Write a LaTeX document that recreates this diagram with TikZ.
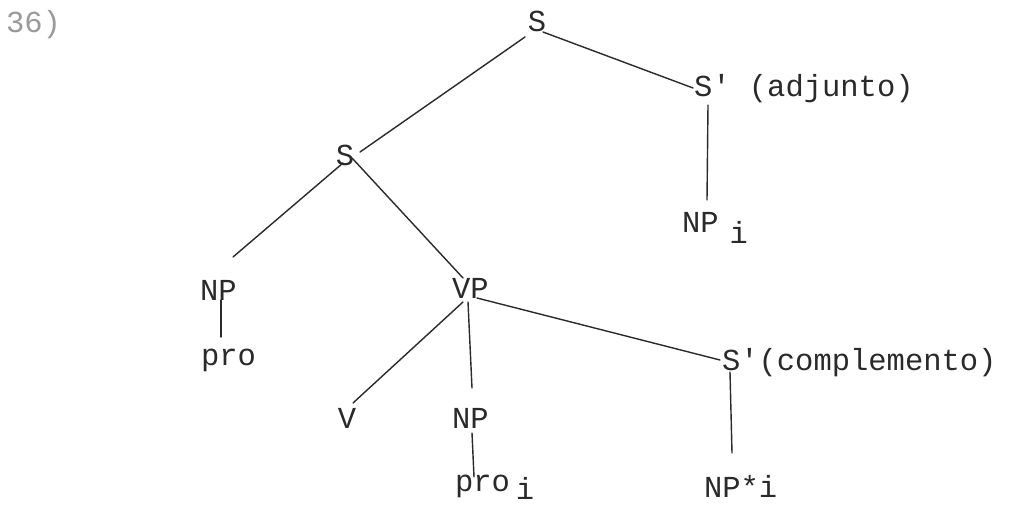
\documentclass[tikz,border=0pt]{standalone}
\usepackage{fontspec}
\setmonofont{Liberation Mono}
\definecolor{ink}{HTML}{2A2A2A}
\definecolor{faint}{HTML}{9A9A9A}
\tikzset{
  lbl/.style={inner sep=0pt, outer sep=0pt, text=ink, font=\fontsize{30.5}{36}\selectfont\ttfamily},
  edge/.style={draw=ink, line width=1.4pt, line cap=round}
}
\begin{document}
\begin{tikzpicture}[x=1pt,y=-1pt]
\useasboundingbox[fill=white] (0,0) rectangle (1009,508);
% labels
\node[lbl, anchor=base west, text=faint] (num) at (6,33) {36)};
\node[lbl, anchor=base] (S) at (537,32) {S};
\node[lbl, anchor=base west] (Sa) at (694,97) {S' (adjunto)};
\node[lbl, anchor=base west] (NPi) at (682,232) {NP\hspace{11pt}\raisebox{-11pt}{i}};
\node[lbl, anchor=base] (Sm) at (345,165) {S};
\node[lbl, anchor=base west] (NPl) at (200,300) {NP};
\node[lbl, anchor=base west] (prol) at (201,365) {pro};
\node[lbl, anchor=base west] (VP) at (452,298) {VP};
\node[lbl, anchor=base] (V) at (347,428) {V};
\node[lbl, anchor=base west] (NPm) at (452,428) {NP};
\node[lbl, anchor=base west] (proi) at (455,491) {pro\hspace{6pt}\raisebox{-8pt}{i}};
\node[lbl, anchor=base west] (Sc) at (722,370) {S'(complemento)};
\node[lbl, anchor=base west] (NPs) at (704,497) {NP*i};
% connectors
\draw[edge] ([shift={(6,0)}]S.base) -- ([shift={(-1,-9)}]Sa.base west);
\draw[edge] ([shift={(-12,5)}]S.base) -- ([shift={(15,-13)}]Sm.base);
\draw[edge] ([shift={(14,8)}]Sa.base west) -- ([shift={(25,-32)}]NPi.base west);
\draw[edge] ([shift={(-2,-2)}]Sm.base) -- ([shift={(33,-43)}]NPl.base west);
\draw[edge] ([shift={(7,-7)}]Sm.base) -- ([shift={(11,-20)}]VP.base west);
\draw[edge] ([shift={(21,0)}]NPl.base west) -- ([shift={(20,-28)}]prol.base west);
\draw[edge] ([shift={(11,4)}]VP.base west) -- ([shift={(6,-25)}]V.base);
\draw[edge] ([shift={(16,4)}]VP.base west) -- ([shift={(20,-40)}]NPm.base west);
\draw[edge] ([shift={(20,5)}]NPm.base west) -- ([shift={(19,-14)}]proi.base west);
\draw[edge] ([shift={(25,0)}]VP.base west) -- ([shift={(-2,-10)}]Sc.base west);
\draw[edge] ([shift={(8,2)}]Sc.base west) -- ([shift={(28,-44)}]NPs.base west);
\end{tikzpicture}
\end{document}
